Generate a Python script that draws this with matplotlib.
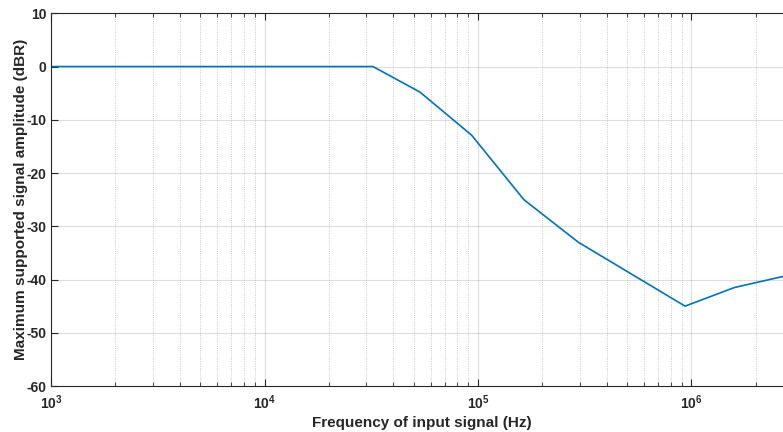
import matplotlib
matplotlib.use("Agg")
import matplotlib.pyplot as plt
from matplotlib.ticker import LogLocator, NullFormatter
import math

plt.rcParams['font.family'] = ['Liberation Sans', 'DejaVu Sans']
plt.rcParams['font.weight'] = 'bold'
plt.rcParams['mathtext.fontset'] = 'custom'
plt.rcParams['mathtext.rm'] = 'Liberation Sans:bold'
plt.rcParams['mathtext.bf'] = 'Liberation Sans:bold'
plt.rcParams['mathtext.default'] = 'bf'
plt.rcParams['axes.unicode_minus'] = False

freq_hz = [1e3, 32200, 53500, 93400, 164000, 295000, 933000, 1.59e6, 2.7e6]
amp_dbr = [0, 0, -4.8, -12.9, -25.0, -33.0, -45.0, -41.5, -39.4]

y_ticks = [10, 0, -10, -20, -30, -40, -50, -60]
x_label = "Frequency of input signal (Hz)"
y_label = "Maximum supported signal amplitude (dBR)"

W, H = 783, 432
fig = plt.figure(figsize=(W / 100, H / 100), dpi=100)
left_px, top_px, bottom_px = 51, 13.3, 386
decade_px = 213.5
xmin, xmax = 1e3, 3e6
width_px = decade_px * (math.log10(xmax) - math.log10(xmin))
ax = fig.add_axes([left_px / W, (H - bottom_px) / H, width_px / W, (bottom_px - top_px) / H])

ax.plot(freq_hz, amp_dbr, color='#0072BD', linewidth=1.2)
ax.set_xscale('log')
ax.set_xlim(xmin, xmax)
ax.set_ylim(-60, 10)
ax.set_yticks(y_ticks)
ax.xaxis.set_major_locator(LogLocator(base=10, numticks=10))
ax.xaxis.set_minor_locator(LogLocator(base=10, subs=range(2, 10), numticks=20))
ax.xaxis.set_minor_formatter(NullFormatter())

ax.grid(True, which='major', axis='both', color='#000000', alpha=0.13, linewidth=0.8, linestyle='-')
ax.grid(True, which='minor', axis='x', color='#000000', alpha=0.28, linewidth=0.6, linestyle=':')

for s in ax.spines.values():
    s.set_color('#262626')
    s.set_linewidth(0.8)

ax.tick_params(axis='both', which='both', direction='in', top=True, right=True,
               colors='#262626', labelcolor='#262626', labelsize=10)
ax.tick_params(axis='both', which='major', length=5, width=0.8)
ax.tick_params(axis='both', which='minor', length=3, width=0.6)
ax.tick_params(axis='x', which='major', pad=5)
for lab in ax.get_yticklabels():
    lab.set_fontweight('bold')

ax.set_xlabel(x_label, fontsize=11, fontweight='bold', color='#262626', labelpad=3)
ax.set_ylabel(y_label, fontsize=11, fontweight='bold', color='#262626', labelpad=-1)

fig.savefig('out.png', dpi=100)
